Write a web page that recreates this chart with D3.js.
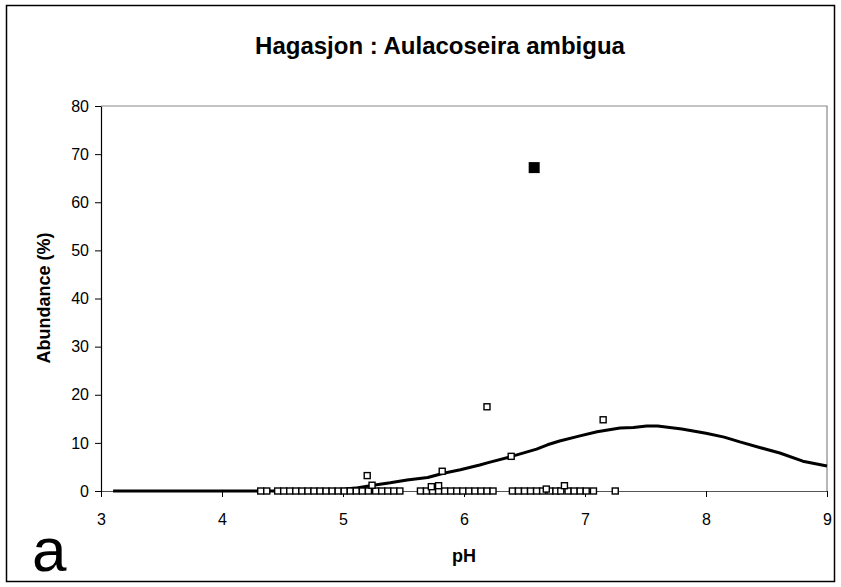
<!DOCTYPE html>
<html><head><meta charset="utf-8">
<script src="https://cdn.jsdelivr.net/npm/d3@7"></script>
<style>body{margin:0;background:#fff}svg{display:block}</style>
</head><body>
<svg id="c" width="841" height="587"></svg>
<script>
const title = "Hagasjon : Aulacoseira ambigua";
const xTicks = [3,4,5,6,7,8,9];
const yTicks = [0,10,20,30,40,50,60,70,80];
// samples with abundance zero (pH)
const zeroPH = [4.32,4.37,4.46,4.51,4.56,4.61,4.66,4.71,4.76,4.81,4.86,4.91,4.96,5.01,5.06,5.11,5.16,5.21,5.27,5.32,5.37,5.42,5.47,5.64,5.69,5.74,5.79,5.84,5.89,5.94,5.99,6.04,6.09,6.14,6.19,6.24,6.40,6.45,6.50,6.55,6.60,6.65,6.71,6.76,6.80,6.86,6.91,6.96,7.01,7.07,7.25];
// samples with non-zero abundance
const obsPH  = [5.20,5.24,5.73,5.79,5.82,6.19,6.39,6.68,6.83,7.15];
const obsAb  = [3.2,1.2,0.9,1.1,4.1,17.5,7.2,0.4,1.1,14.8];
// highlighted sample
const hiPH = [6.58];
const hiAb = [67.2];
// fitted response curve
const curvePH = [3.1,3.5,4.0,4.5,4.8,4.95,5.1,5.25,5.39,5.53,5.7,5.83,5.97,6.13,6.2,6.38,6.6,6.69,6.79,6.95,7.1,7.29,7.4,7.51,7.6,7.8,8.0,8.15,8.28,8.45,8.61,8.8,9.0];
const curveAb = [0,0,0,0,0.05,0.2,0.6,1.2,1.7,2.3,2.8,3.7,4.4,5.4,5.9,7.1,8.7,9.6,10.4,11.4,12.3,13.1,13.2,13.5,13.5,12.9,12.0,11.2,10.2,9.0,7.9,6.2,5.2];

const svg = d3.select("#c");
const L=101, R=827, T=106, B=491;
const x = d3.scaleLinear().domain([3,9]).range([L,R]);
const y = d3.scaleLinear().domain([0,80]).range([B,T]);

svg.append("rect").attr("x",6.5).attr("y",5.5).attr("width",828).attr("height",576)
  .attr("fill","#fff").attr("stroke","#000").attr("stroke-width",1.5);

// plot border (top/right gray)
svg.append("path").attr("d",`M${L},${T}H${R}V${B}`).attr("fill","none").attr("stroke","#888").attr("stroke-width",1.2);

const font = "'Liberation Sans', Arial, sans-serif";
const xa = svg.append("g").attr("transform",`translate(0,${B})`)
  .call(d3.axisBottom(x).tickValues(xTicks).tickFormat(d3.format("d")).tickSize(6).tickSizeOuter(0));
const ya = svg.append("g").attr("transform",`translate(${L},0)`)
  .call(d3.axisLeft(y).tickValues(yTicks).tickSize(6).tickSizeOuter(0));
[xa,ya].forEach(a=>{
  a.selectAll("text").attr("font-family",font).attr("font-size",16).attr("fill","#000");
  a.selectAll("line").attr("stroke","#000");
});
xa.select(".domain").attr("stroke","#555").attr("stroke-width",1.2);
ya.select(".domain").attr("stroke","#000").attr("stroke-width",1.2);
xa.selectAll("text").attr("dy","1.55em");
ya.selectAll("text").attr("x",-12);

// curve
svg.append("path").datum(curvePH.map((p,i)=>[p,curveAb[i]]))
  .attr("d",d3.line().x(d=>x(d[0])).y(d=>y(d[1])))
  .attr("fill","none").attr("stroke","#000").attr("stroke-width",3).attr("stroke-linejoin","round");

// zero points + observations
const pts = zeroPH.map(p=>[p,0]).concat(obsPH.map((p,i)=>[p,obsAb[i]]));
svg.append("g").selectAll("rect").data(pts).join("rect")
  .attr("x",d=>x(d[0])-3).attr("y",d=>y(d[1])-3).attr("width",6).attr("height",6)
  .attr("fill","#fff").attr("stroke","#000").attr("stroke-width",1.4);

svg.append("g").selectAll("rect").data(hiPH.map((p,i)=>[p,hiAb[i]])).join("rect")
  .attr("x",d=>x(d[0])-5.5).attr("y",d=>y(d[1])-5.5).attr("width",11).attr("height",11)
  .attr("fill","#000");

svg.append("text").attr("x",440).attr("y",54).attr("text-anchor","middle")
  .attr("font-family",font).attr("font-weight","bold").attr("font-size",24).text(title);
svg.append("text").attr("transform","translate(50,298) rotate(-90)").attr("text-anchor","middle")
  .attr("font-family",font).attr("font-weight","bold").attr("font-size",18).text("Abundance (%)");
svg.append("text").attr("x",464).attr("y",562).attr("text-anchor","middle")
  .attr("font-family",font).attr("font-weight","bold").attr("font-size",18).text("pH");
svg.append("text").attr("x",32).attr("y",571)
  .attr("font-family",font).attr("font-size",62).text("a");
</script>
</body></html>
